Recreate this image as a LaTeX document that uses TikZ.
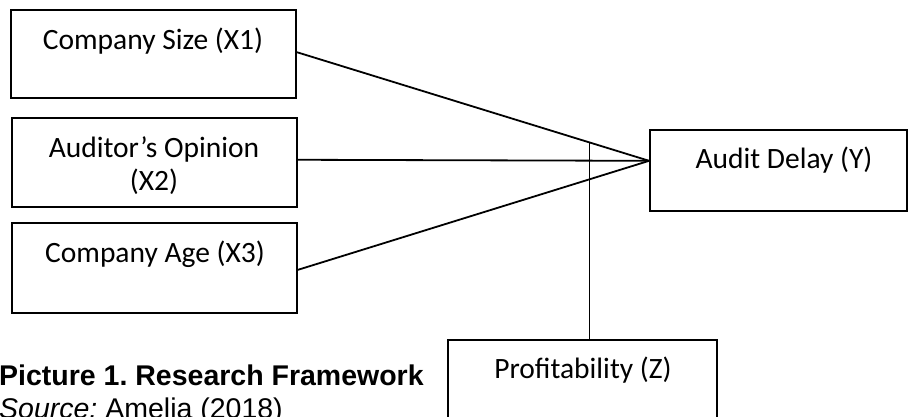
\documentclass[tikz,border=0pt]{standalone}
\usepackage{fontspec}
\setmainfont{Carlito}
\newfontfamily\arialfont{Liberation Sans}
\usetikzlibrary{calc}
\frenchspacing
\begin{document}
\begin{tikzpicture}[x=1pt,y=-1pt,
  box/.style={draw, line width=1.8pt, inner sep=0pt, rectangle},
  lbl/.style={font=\fontsize{29.5}{33}\selectfont, inner sep=0pt, anchor=base},
  captxt/.style={font=\arialfont\fontsize{28.5}{33}\selectfont, inner sep=0pt, anchor=base west},
  wire/.style={line width=1.8pt}]
\useasboundingbox (0,0) rectangle (908,416);
\clip (0,0) rectangle (908,416);
% boxes
\node[box, minimum width=285pt, minimum height=88pt] (b1) at (153.5,54) {};
\node[box, minimum width=285pt, minimum height=89pt] (b2) at (154.5,162.5) {};
\node[box, minimum width=285pt, minimum height=90pt] (b3) at (154.5,268) {};
\node[box, minimum width=257pt, minimum height=81pt] (y) at (778.5,170.5) {};
\node[box, minimum width=269pt, minimum height=100pt] (p) at (582.5,390) {};
% labels
\node[lbl] (t1) at (153,49) {Company Size (X1)};
\node[lbl] (t2a) at (154,157) {Auditor’s Opinion};
\node[lbl] (t2b) at (154,190) {(X2)};
\node[lbl] (t3) at (155,262) {Company Age (X3)};
\node[lbl] (t4) at (784,168) {Audit Delay (Y)};
\node[lbl] (t5) at (583,378) {Profitability (Z)};
% caption
\node[captxt] (c1) at (-1,385) {\bfseries Picture 1. Research Framework};
\node[captxt] (c2) at (-1,418) {\itshape Source:\upshape{} Amelia (2018)};
% connectors
\coordinate (conv) at ($(y.north west)!0.383!(y.south west)$);
\draw[wire] ($(b1.north east)!0.48!(b1.south east)$) -- (conv);
\draw[wire] ($(b2.north east)!0.47!(b2.south east)$) -- (conv);
\draw[wire] ($(b3.north east)!0.52!(b3.south east)$) -- (conv);
\coordinate (vtop) at ($(b1.east)!0.831!(conv)$);
\draw[wire] (vtop) -- (vtop |- p.north);
\end{tikzpicture}
\end{document}
